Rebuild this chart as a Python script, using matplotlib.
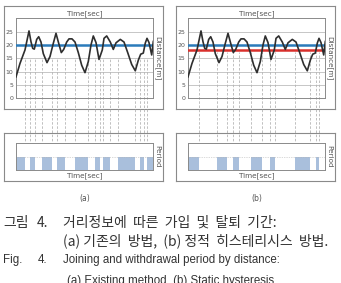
import matplotlib
matplotlib.use('Agg')
import matplotlib.pyplot as plt

# distance curve (time in px units from plot left, distance in m)
time = [0, 4, 9, 13, 15, 16.7, 18.3, 20.7, 22.7, 25, 27.3, 31, 34, 37.3, 40,
        42.7, 45.3, 47.7, 50.7, 53, 56, 59, 62.3, 65.7, 69, 72.3, 75, 77.3, 80,
        83, 86.3, 88, 90.7, 94.3, 97.3, 100, 104.3, 108, 111.7, 115.7, 119.3,
        122.3, 124.7, 127.3, 129.3, 131, 133, 135.7, 137.3, 139, 141, 143, 145,
        147]
distance = [8.0, 13.1, 18.2, 25.4, 21.3, 18.8, 18.5, 22.2, 23.2, 21.2, 16.8,
            13.4, 15.7, 20.7, 24.5, 20.7, 17.2, 18.4, 21.2, 22.4, 22.4, 21.2,
            17.2, 12.4, 9.6, 13.8, 20.1, 23.5, 21.0, 14.6, 18.2, 22.6, 23.5,
            21.2, 18.4, 20.9, 22.2, 21.2, 17.2, 12.7, 10.3, 14.3, 16.6, 17.0,
            20.8, 22.6, 21.0, 16.3, 21.4, 19.0, 20.0, 19.4, 19.4, 19.8]
time = [t for t in time if t <= 137.3]
distance = distance[:len(time)]

upper_threshold = 20   # blue
lower_threshold = 18   # red

# joined periods (blue bars), start/end in the same time units
joined_a = [(0, 9), (14, 19), (25.7, 35.7), (40.7, 49), (59, 72), (79, 84),
            (87, 94), (102, 119), (124, 128), (130.7, 137)]
joined_b = [(0, 11), (28.7, 38.7), (44.7, 51), (62.7, 73.7), (82, 87),
            (107, 122), (127.7, 130.7)]

y_ticks = [0, 5, 10, 15, 20, 25]

W, H = 341, 283
fig = plt.figure(figsize=(W / 100, H / 100), dpi=100)
fig.patch.set_facecolor('white')

GRID = '#bdbdbd'
EDGE = '#8a8a8a'
TXT = '#555555'
BAR = '#a9bfdc'


def rect(x0, y0, x1, y1):
    return [x0 / W, 1 - y1 / H, (x1 - x0) / W, (y1 - y0) / H]


def box(x0, y0, x1, y1):
    ax = fig.add_axes(rect(x0, y0, x1, y1))
    ax.set_xticks([])
    ax.set_yticks([])
    ax.set_facecolor('none')
    for s in ax.spines.values():
        s.set_color(EDGE)
        s.set_linewidth(0.8)
    return ax


def panel(dx, joined, thresholds, dash_top, label):
    xl, xr = 16 + dx, 153 + dx
    box(4 + dx, 6, 163 + dx, 109)
    box(4 + dx, 133, 163 + dx, 181)

    top = fig.add_axes(rect(xl, 18, xr, 98))
    bot = fig.add_axes(rect(xl, 143, xr, 170))

    # upper: distance curve
    top.set_xlim(0, 137)
    top.set_ylim(0, 30.3)
    top.set_yticks(y_ticks)
    top.set_xticks([])
    top.tick_params(axis='y', length=0, labelsize=4.5, labelcolor=TXT, pad=2)
    for yv in y_ticks[1:]:
        top.axhline(yv, color=GRID, lw=0.6, zorder=1)
    for s in top.spines.values():
        s.set_color(EDGE)
        s.set_linewidth(0.7)

    # dashed period markers running from the curve area down through the lower panel
    y_bottom = top.transData.inverted().transform(
        bot.transAxes.transform((0, 0)))[1]
    edges = sorted({e for seg in joined for e in seg if 0 < e < 137})
    top.vlines(edges, y_bottom, dash_top, colors='#b5b5b5', lw=0.6,
               linestyles=(0, (3, 2)), clip_on=False, zorder=2)

    for val, col in thresholds:
        top.axhline(val, color=col, lw=1.8, zorder=3)
    top.plot(time, distance, color='#2e2e2e', lw=1.2, zorder=4)

    fig.text((xl + xr) / 2 / W, 1 - 13.5 / H, 'Time[sec]', ha='center',
             va='center', fontsize=5.2, color=TXT)
    fig.text((158 + dx) / W, 1 - 58 / H, 'Distance[m]', ha='center',
             va='center', fontsize=5.2, color=TXT, rotation=-90)

    # lower: joined periods
    bot.set_xlim(0, 137)
    bot.set_ylim(0, 1)
    bot.set_xticks([])
    bot.set_yticks([])
    for s in bot.spines.values():
        s.set_color(EDGE)
        s.set_linewidth(0.7)
    bot.broken_barh([(a, b - a) for a, b in joined], (0, 0.5),
                    facecolors=BAR, zorder=1)
    bot.axhline(0.5, color='#b5b5b5', lw=0.5, ls=(0, (1, 1.5)), zorder=2)

    fig.text((xl + xr) / 2 / W, 1 - 175.5 / H, 'Time[sec]', ha='center',
             va='center', fontsize=5.2, color=TXT)
    fig.text((157.5 + dx) / W, 1 - 156 / H, 'Period', ha='center',
             va='center', fontsize=5.2, color=TXT, rotation=-90)

    fig.text((xl + xr) / 2 / W, 1 - 198 / H, label, ha='center', va='center',
             fontsize=5.5, color=TXT)


panel(0, joined_a, [(upper_threshold, '#2b7bba')], 15, '(a)')
panel(172, joined_b, [(upper_threshold, '#2b7bba'), (lower_threshold, '#d9302c')],
      17.5, '(b)')

KR = ['Noto Sans CJK KR', 'DejaVu Sans']
EN = ['Liberation Sans', 'DejaVu Sans']
CAP = '#333333'
fig.text(3 / W, 1 - 223 / H, '그림', family=KR, fontsize=10, color=CAP, va='center')
fig.text(37 / W, 1 - 223 / H, '4.', family=KR, fontsize=10, color=CAP, va='center')
fig.text(63 / W, 1 - 223 / H, '거리정보에  따른  가입  및  탈퇴  기간:', family=KR,
         fontsize=10, color=CAP, va='center')
fig.text(63 / W, 1 - 240.5 / H, '(a) 기존의  방법,  (b) 정적  히스테리시스  방법.',
         family=KR, fontsize=10, color=CAP, va='center')
fig.text(3 / W, 1 - 260 / H, 'Fig.', family=EN, fontsize=8.3, color=CAP, va='center')
fig.text(38 / W, 1 - 260 / H, '4.', family=EN, fontsize=8.3, color=CAP, va='center')
fig.text(63 / W, 1 - 260 / H, 'Joining and withdrawal period by distance:',
         family=EN, fontsize=8.3, color=CAP, va='center')
fig.text(67 / W, 1 - 275 / H, '(a) Existing method, (b) Static hysteresis',
         family=EN, fontsize=8.3, color=CAP, va='top')

fig.savefig('out.png', dpi=100)
